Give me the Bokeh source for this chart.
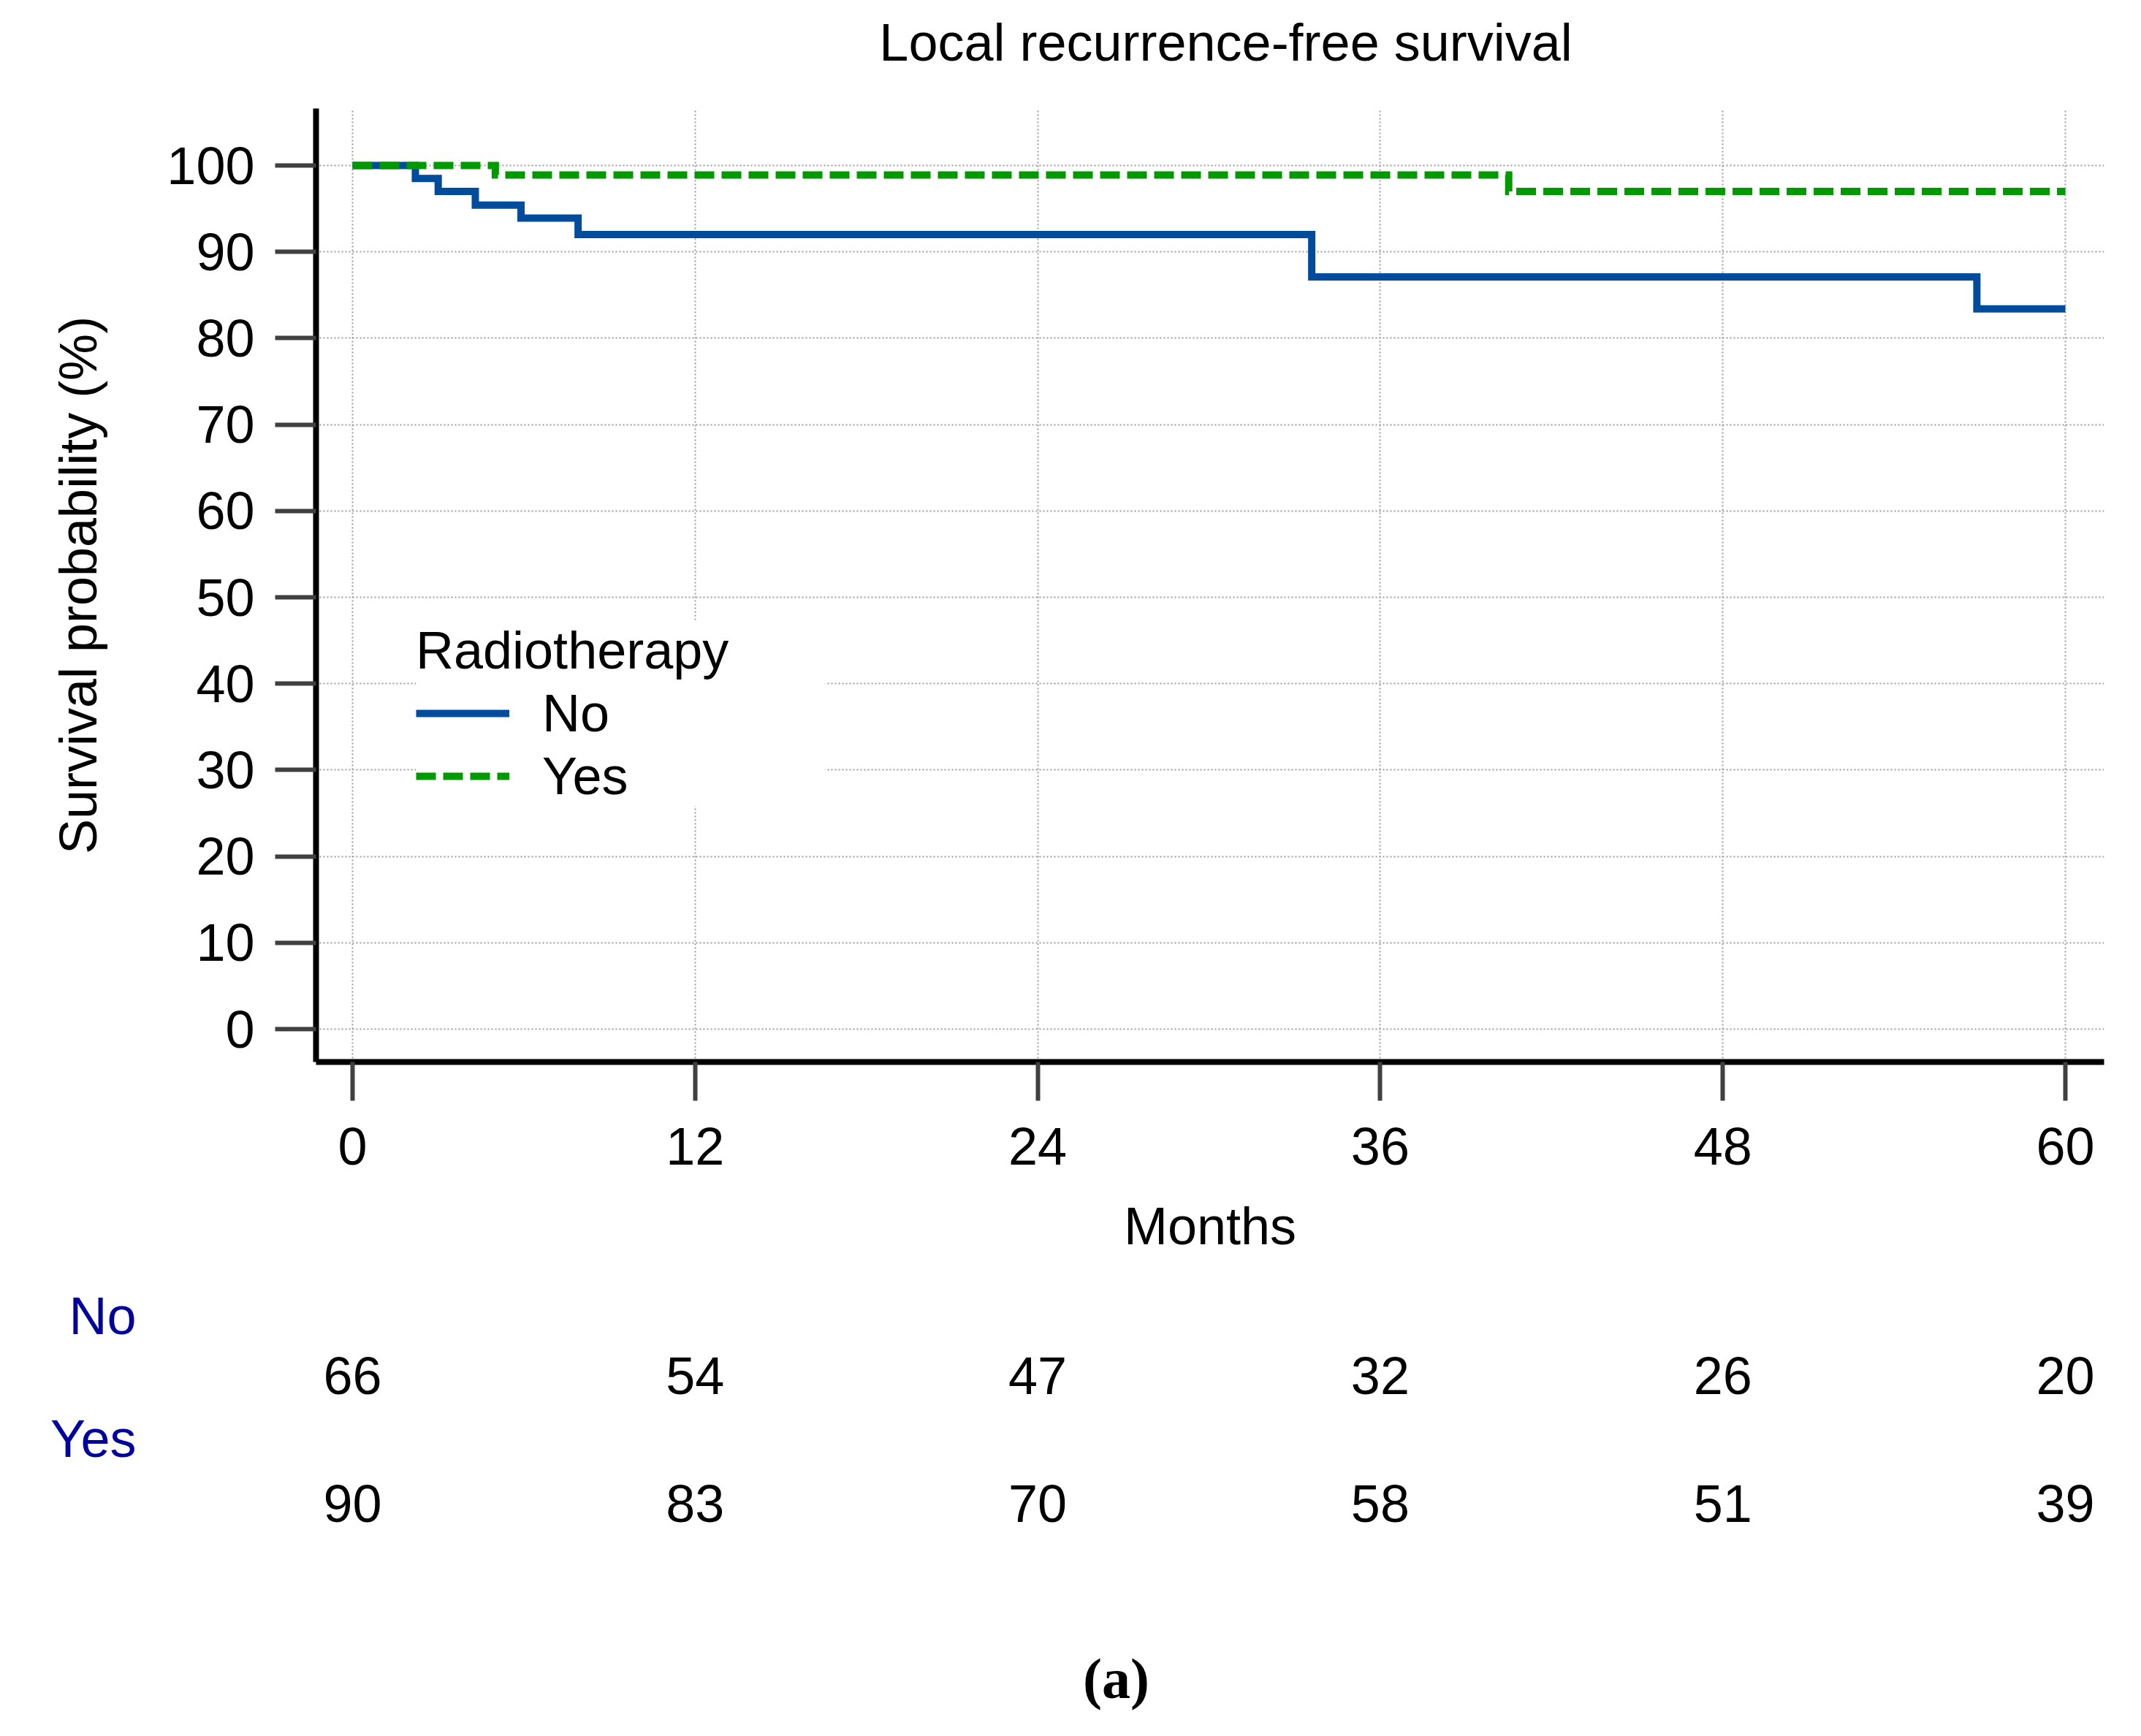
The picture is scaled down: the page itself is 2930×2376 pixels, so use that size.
from bokeh.plotting import figure
from bokeh.layouts import column
from bokeh.models import Range1d, FixedTicker, Legend, LegendItem
from bokeh.core.properties import value
from bokeh.embed import file_html
from bokeh.resources import INLINE

# ---------------- data ----------------
no_months = [0, 2.2, 3.0, 4.3, 5.9, 7.9, 33.6, 56.9, 60]
no_surv = [100, 98.5, 97.0, 95.4, 93.9, 92.0, 87.1, 83.4, 83.4]
yes_months = [0, 5.0, 40.5, 60]
yes_surv = [100, 98.9, 97.0, 97.0]

x_ticks = [0, 12, 24, 36, 48, 60]
y_ticks = [0, 10, 20, 30, 40, 50, 60, 70, 80, 90, 100]

risk_months = [0, 12, 24, 36, 48, 60]
risk_no = [66, 54, 47, 32, 26, 20]
risk_yes = [90, 83, 70, 58, 51, 39]
groups = ["No", "Yes"]

title_text = "Local recurrence-free survival"
x_label = "Months"
y_label = "Survival probability (%)"
legend_title = "Radiotherapy"
panel_tag = "(a)"

# ---------------- style / layout ----------------
FONT = "Liberation Sans"
FS = "72px"
BLUE = "#004C9C"
GREEN = "#009A00"
NAVY = "#00009C"

TOTAL_W = 2914
LEFT_B, FRAME_W = 432, 2447
RIGHT_B = TOTAL_W - LEFT_B - FRAME_W
TOP_H = 148            # strip holding the title
FRAME_H = 1305
BOTTOM_B = 307
BOT_H = 2368 - TOP_H - FRAME_H - BOTTOM_B
TXT_SHIFT = 25         # px correction for glyph text baseline

xr = Range1d(-1.2799, 61.357)
yr = Range1d(-3.807, 106.599)


def strip(height, y_range, y_axis=None):
    f = figure(width=TOTAL_W, height=height, x_range=xr, y_range=y_range,
               min_border_left=LEFT_B, min_border_right=RIGHT_B,
               min_border_top=0, min_border_bottom=0,
               x_axis_location=None, y_axis_location=y_axis, toolbar_location=None,
               output_backend="svg", outline_line_color=None,
               background_fill_color="white", border_fill_color="white")
    f.grid.visible = False
    return f


# ---------------- title strip ----------------
top = strip(TOP_H, Range1d(0, TOP_H))
top.text(x=[30.59], y=[TOP_H - 82 + TXT_SHIFT], text=[title_text], text_align="center",
         text_baseline="alphabetic", text_font=value(FONT), text_font_size=value(FS),
         text_color="black")

# ---------------- main plot ----------------
p = figure(
    width=TOTAL_W, height=FRAME_H + BOTTOM_B,
    frame_width=FRAME_W, frame_height=FRAME_H,
    min_border_left=LEFT_B, min_border_right=RIGHT_B,
    min_border_top=0, min_border_bottom=BOTTOM_B,
    x_range=xr, y_range=yr,
    toolbar_location=None, output_backend="svg",
    outline_line_color=None, background_fill_color="white",
    border_fill_color="white",
)

for ax in (p.xaxis[0], p.yaxis[0]):
    ax.axis_line_color = "black"
    ax.axis_line_width = 8
    ax.major_tick_line_color = "#404040"
    ax.major_tick_line_width = 6
    ax.major_tick_in = 0
    ax.minor_tick_line_color = None
    ax.major_label_text_font = FONT
    ax.major_label_text_font_size = FS
    ax.major_label_text_color = "black"
    ax.axis_label_text_font = FONT
    ax.axis_label_text_font_size = FS
    ax.axis_label_text_font_style = "normal"
    ax.axis_label_text_color = "black"

p.xaxis.ticker = FixedTicker(ticks=x_ticks)
p.yaxis.ticker = FixedTicker(ticks=y_ticks)
p.xaxis.major_tick_out = 53
p.yaxis.major_tick_out = 56
p.xaxis.major_label_standoff = 37
p.yaxis.major_label_standoff = 28
p.xaxis.axis_label = x_label
p.yaxis.axis_label = y_label
p.xaxis.axis_label_standoff = 41
p.yaxis.axis_label_standoff = 78

p.xgrid.ticker = FixedTicker(ticks=x_ticks)
p.ygrid.ticker = FixedTicker(ticks=y_ticks)
for g in (p.xgrid[0], p.ygrid[0]):
    g.grid_line_color = "#9C9C9C"
    g.grid_line_width = 2
    g.grid_line_dash = "2 3"

r_no = p.step(no_months, no_surv, mode="after", line_color=BLUE, line_width=10,
              line_join="miter")
r_yes = p.step(yes_months, yes_surv, mode="after", line_color=GREEN, line_width=10,
               line_dash="27 10", line_join="miter")

legend = Legend(
    items=[LegendItem(label=groups[0], renderers=[r_no]),
           LegendItem(label=groups[1], renderers=[r_yes])],
    location=(137, 350),
    title=legend_title,
    title_text_font=FONT, title_text_font_size=FS, title_text_font_style="normal",
    title_text_color="black", title_standoff=4,
    label_text_font=FONT, label_text_font_size=FS, label_text_color="black",
    glyph_width=128, glyph_height=40, label_standoff=45, label_width=387,
    spacing=4, padding=27, margin=0,
    border_line_color=None, background_fill_color="white", background_fill_alpha=1.0,
)
p.add_layout(legend)

# ---------------- number-at-risk strip ----------------
# row units: 1 = "Yes" counts, 2 = "Yes" label, 3 = "No" counts, 4 = "No" label
row_px = 87.33
yb1 = 1 + (2082 - (TOP_H + FRAME_H + BOTTOM_B)) / row_px
yb0 = yb1 - BOT_H / row_px
sh = TXT_SHIFT / row_px
bot = strip(BOT_H, Range1d(yb0, yb1), y_axis="left")
bot.text(x=risk_months, y=[3 + sh] * len(risk_no), text=[str(v) for v in risk_no],
         text_align="center", text_baseline="alphabetic", text_font=value(FONT),
         text_font_size=value(FS), text_color="black")
bot.text(x=risk_months, y=[1 + sh] * len(risk_yes), text=[str(v) for v in risk_yes],
         text_align="center", text_baseline="alphabetic", text_font=value(FONT),
         text_font_size=value(FS), text_color="black")
bot.text(x=[26.75], y=[-1.75 + sh], text=[panel_tag], text_align="center",
         text_baseline="alphabetic", text_font=value("Liberation Serif"),
         text_font_size=value("78px"), text_font_style="bold", text_color="black")

# group names of the risk table, drawn as the strip's left tick labels
gy = bot.yaxis[0]
gy.ticker = FixedTicker(ticks=[4.298, 2.294])
gy.major_label_overrides = {4.298: groups[0], 2.294: groups[1]}
gy.axis_line_color = None
gy.major_tick_line_color = None
gy.minor_tick_line_color = None
gy.major_tick_out = 0
gy.major_tick_in = 0
gy.major_label_standoff = 246
gy.major_label_text_font = FONT
gy.major_label_text_font_size = FS
gy.major_label_text_color = NAVY

layout = column(top, p, bot, spacing=0)
open("out.html", "w").write(file_html(layout, INLINE))
